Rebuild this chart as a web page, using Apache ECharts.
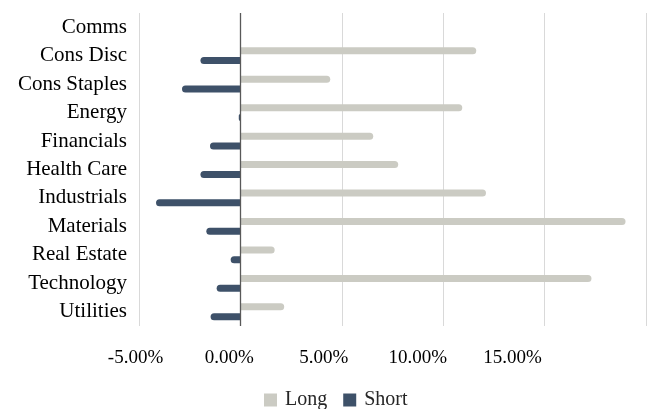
<!DOCTYPE html>
<html>
<head>
<meta charset="utf-8">
<script src="https://cdn.jsdelivr.net/npm/echarts@6/dist/echarts.min.js"></script>
<style>
html,body{margin:0;padding:0;background:#fff;}
#chart{width:653px;height:409px;}
</style>
</head>
<body>
<div id="chart"></div>
<script>
var categories = ['Comms','Cons Disc','Cons Staples','Energy','Financials','Health Care','Industrials','Materials','Real Estate','Technology','Utilities'];
var longValues = [0, 11.63, 4.43, 10.94, 6.55, 7.78, 12.11, 18.99, 1.69, 17.31, 2.16];
var shortValues = [0, -1.97, -2.88, -0.08, -1.50, -1.97, -4.16, -1.68, -0.48, -1.17, -1.47];
var tickValues = [-5, 0, 5, 10, 15];

var FONT = '"Liberation Serif", "DejaVu Serif", serif';
var labelShift = {'-5': 7, '0': 22, '5': 36, '10': 51, '15': 64};
var rich = {};
tickValues.forEach(function (v, i) {
  rich['t' + i] = {fontFamily: FONT, fontSize: 19, color: '#000', padding: [0, labelShift[String(v)], 0, 0]};
});

var chart = echarts.init(document.getElementById('chart'));
chart.setOption({
  animation: false,
  backgroundColor: '#fff',
  grid: {left: 139, right: 7, top: 13, bottom: 83, containLabel: false},
  legend: {
    data: ['Long', 'Short'],
    left: 259, top: 385,
    itemWidth: 13, itemHeight: 13, itemGap: 16,
    icon: 'rect',
    textStyle: {fontFamily: FONT, fontSize: 20, color: '#262626', padding: [0, 0, 0, 3]}
  },
  xAxis: {
    type: 'value', min: -5, max: 20, interval: 5,
    axisLine: {show: false}, axisTick: {show: false},
    splitLine: {show: true, lineStyle: {color: '#D9D9D9', width: 1}},
    axisLabel: {
      margin: 23,
      formatter: function (v) {
        var i = tickValues.indexOf(v);
        if (i < 0) return '';
        return '{t' + i + '|' + v.toFixed(2) + '%}';
      },
      rich: rich
    }
  },
  yAxis: {
    type: 'category', data: categories, inverse: true,
    axisLine: {show: false}, axisTick: {show: false},
    axisLabel: {fontFamily: FONT, fontSize: 21, color: '#000', margin: 12}
  },
  series: [
    {
      name: 'Long', type: 'bar', data: longValues,
      barWidth: 7, barGap: '40%',
      itemStyle: {color: '#CBCBC3', borderRadius: [0, 3.5, 3.5, 0]},
      markLine: {
        silent: true, symbol: 'none', label: {show: false},
        lineStyle: {color: '#595959', width: 1.3, type: 'solid'},
        data: [{xAxis: 0}]
      }
    },
    {
      name: 'Short', type: 'bar', data: shortValues,
      barWidth: 7,
      itemStyle: {color: '#3E5169', borderRadius: [3.5, 0, 0, 3.5]}
    }
  ]
});
</script>
</body>
</html>
